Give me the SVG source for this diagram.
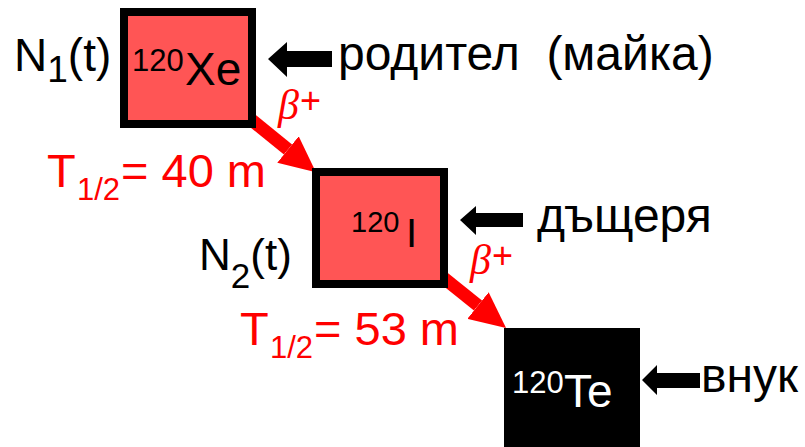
<svg xmlns="http://www.w3.org/2000/svg" width="805" height="447" viewBox="0 0 805 447">
<defs>
<style>
.t{font-family:"Liberation Sans",Arial,sans-serif;}
.box{fill:#FF5555;stroke:#000;stroke-width:8}
.red{fill:#FF0000}
.beta{font-family:"Liberation Serif","Times New Roman",serif;font-style:italic;fill:#FF0000}
.conn{stroke:#FF0000;stroke-width:13;fill:none}
.ptr{fill:#000}
</style>
<marker id="head" markerUnits="userSpaceOnUse" markerWidth="36" markerHeight="34" viewBox="0 0 36 34" refX="0" refY="17" orient="auto">
<path d="M0,0 L36,17 L0,34 Z" fill="#FF0000"/>
</marker>
</defs>
<rect width="805" height="447" fill="#fff"/>

<g id="connectors">
<line class="conn" x1="248" y1="117" x2="288" y2="149.5" marker-end="url(#head)"/>
<line class="conn" x1="440" y1="275" x2="478" y2="305.5" marker-end="url(#head)"/>
</g>

<g id="xe120">
<rect class="box" x="124" y="12" width="128" height="112"/>
<text class="t" font-size="46"><tspan x="132" y="71" font-size="31">120</tspan><tspan x="185" y="85">Xe</tspan></text>
</g>

<g id="i120">
<rect class="box" x="316" y="172" width="128" height="112"/>
<text class="t" font-size="40"><tspan x="351" y="232" font-size="29">120</tspan><tspan x="406" y="247">I</tspan></text>
</g>

<g id="te120">
<rect x="504" y="328" width="136" height="120" fill="#000"/>
<text class="t" font-size="46" fill="#fff"><tspan x="512" y="393" font-size="31">120</tspan><tspan x="564" y="407">Te</tspan></text>
</g>

<g id="n1">
<text class="t" font-size="46"><tspan x="14" y="71">N</tspan><tspan font-size="37" y="82">1</tspan><tspan y="71">(t)</tspan></text>
</g>
<g id="n2">
<text class="t" font-size="44"><tspan x="199" y="270">N</tspan><tspan font-size="35" y="288">2</tspan><tspan y="270">(t)</tspan></text>
</g>

<g id="t1">
<text class="t red" font-size="47"><tspan x="47" y="187">T</tspan><tspan x="77" y="200" font-size="31">1/2</tspan><tspan x="121" y="187">= 40 m</tspan></text>
</g>
<g id="t2">
<text class="t red" font-size="47"><tspan x="240" y="345">T</tspan><tspan x="270" y="358" font-size="31">1/2</tspan><tspan x="314" y="345">= 53 m</tspan></text>
</g>

<g id="beta1">
<text class="beta" x="278" y="119" font-size="42">β</text>
<text class="t red" x="300" y="113" font-size="36">+</text>
</g>
<g id="beta2">
<text class="beta" x="470" y="274" font-size="42">β</text>
<text class="t red" x="492" y="268" font-size="36">+</text>
</g>

<g id="parent">
<polygon class="ptr" points="268,59 287,42 287,51 332,51 332,67 287,67 287,77"/>
<text class="t" x="338" y="70" font-size="48" xml:space="preserve">родител  (майка)</text>
</g>
<g id="daughter">
<polygon class="ptr" points="460,220 476,206 476,213 523,213 523,227 476,227 476,235"/>
<text class="t" x="537" y="232" font-size="48">дъщеря</text>
</g>
<g id="granddaughter">
<polygon class="ptr" points="642,380 657,365 657,373 700,373 700,388 657,388 657,395"/>
<text class="t" x="701" y="392" font-size="48">внук</text>
</g>
</svg>
